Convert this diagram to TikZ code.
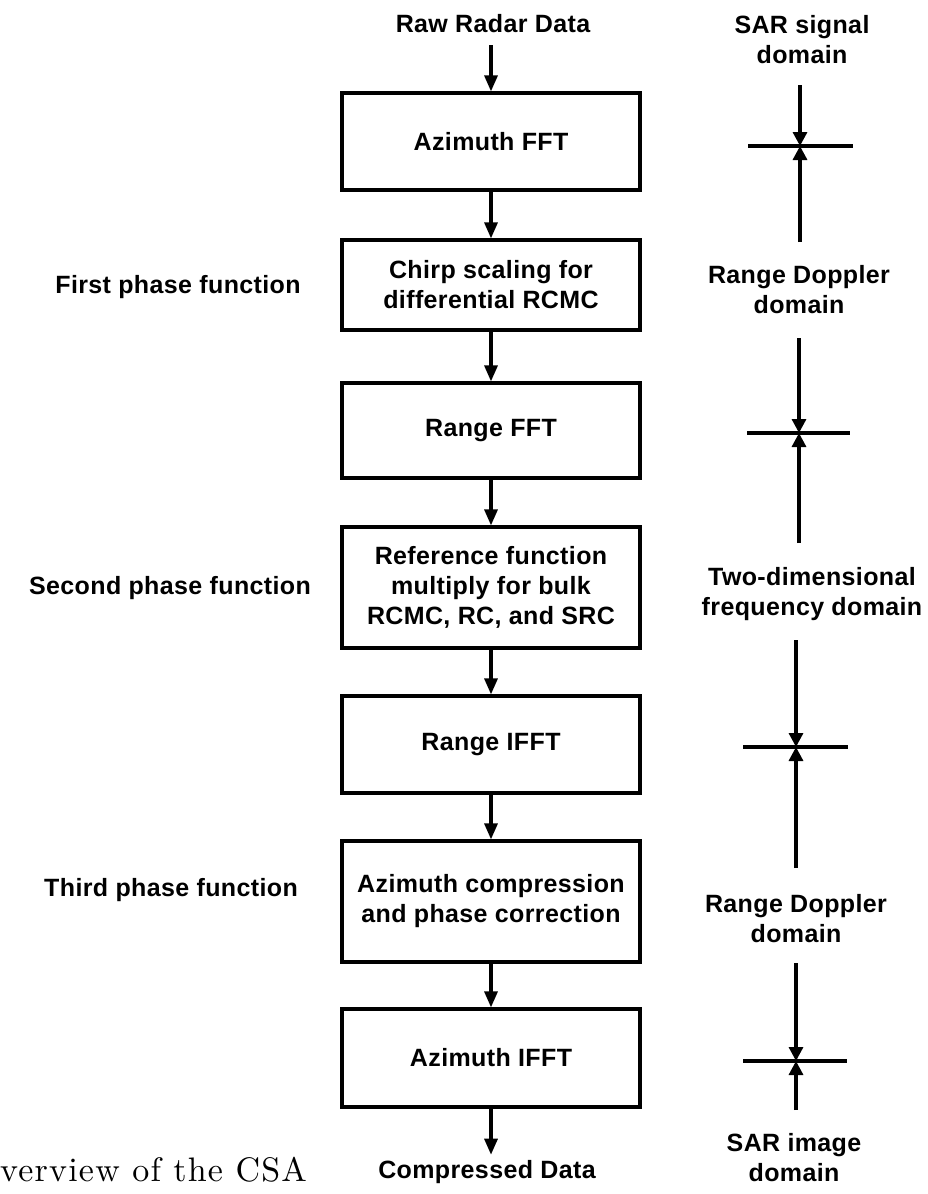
\documentclass[tikz,border=0pt]{standalone}
\usepackage{fontspec}
\newfontfamily\labfont{Liberation Sans}[LetterSpace=1.5]
\newfontfamily\capfont{lmroman10-regular.otf}[LetterSpace=3.5]
\usetikzlibrary{arrows.meta}
\begin{document}
\begin{tikzpicture}[x=1pt,y=-1pt,
  lab/.style={font=\labfont\bfseries\fontsize{25}{30}\selectfont, align=center, inner sep=0pt},
  box/.style={draw, line width=3.2pt, minimum width=298pt, inner sep=0pt, lab},
  arr/.style={line width=3.2pt, -{Triangle[length=16pt,width=13pt]}},
  xline/.style={line width=3.2pt},
  tarr/.style={line width=3.2pt, -{Triangle[length=14pt,width=14pt]}},
]
\useasboundingbox (0,0) rectangle (927,1194);

% main column
\node[lab, anchor=base, inner ysep=13pt] (raw) at (493,32) {Raw Radar Data};
\node[box, minimum height=97pt] (b1) at (491,141.5) {Azimuth FFT};
\node[box, minimum height=90pt] (b2) at (491,285) {Chirp scaling for\\differential RCMC};
\node[box, minimum height=95pt] (b3) at (491,430.5) {Range FFT};
\node[box, minimum height=121pt] (b4) at (491,587.5) {Reference function\\multiply for bulk\\RCMC, RC, and SRC};
\node[box, minimum height=97pt] (b5) at (491,744.5) {Range IFFT};
\node[box, minimum height=121pt] (b6) at (491,901.5) {Azimuth compression\\and phase correction};
\node[box, minimum height=98pt] (b7) at (491,1058) {Azimuth IFFT};
\node[lab, anchor=base, inner ysep=5pt] (comp) at (487,1178) {Compressed Data};

\draw[arr] (raw.south -| b1.north) -- (b1.north);
\draw[arr] (b1) -- (b2);
\draw[arr] (b2) -- (b3);
\draw[arr] (b3) -- (b4);
\draw[arr] (b4) -- (b5);
\draw[arr] (b5) -- (b6);
\draw[arr] (b6) -- (b7);
\draw[arr] (b7.south) -- (b7.south |- comp.north);

% left labels
\node[lab, anchor=base] (p1) at (178,293) {First phase function};
\node[lab, anchor=base] (p2) at (170,594) {Second phase function};
\node[lab, anchor=base] (p3) at (171,896) {Third phase function};

% right labels
\node[lab, anchor=north] (d1) at (802,15) {SAR signal\\domain};
\node[lab, anchor=north] (d2) at (799,265) {Range Doppler\\domain};
\node[lab, anchor=north] (d3) at (812,567) {Two-dimensional\\frequency domain};
\node[lab, anchor=north] (d4) at (796,894) {Range Doppler\\domain};
\node[lab, anchor=north] (d5) at (794,1133) {SAR image\\domain};

% crosses
\coordinate (c1) at (800,146); \coordinate (c1t) at (800,85); \coordinate (c1b) at (800,242);
\coordinate (c1l) at (748,146); \coordinate (c1r) at (853,146);
\coordinate (c2) at (799,433); \coordinate (c2t) at (799,338); \coordinate (c2b) at (799,543);
\coordinate (c2l) at (747,433); \coordinate (c2r) at (850,433);
\coordinate (c3) at (796,747); \coordinate (c3t) at (796,640); \coordinate (c3b) at (796,868);
\coordinate (c3l) at (743,747); \coordinate (c3r) at (848,747);
\coordinate (c4) at (796,1061); \coordinate (c4t) at (796,963); \coordinate (c4b) at (796,1110);
\coordinate (c4l) at (743,1061); \coordinate (c4r) at (847,1061);
\foreach \i in {1,2,3,4}{
  \draw[xline] (c\i l) -- (c\i r);
  \draw[tarr] (c\i t) -- (c\i);
  \draw[tarr] (c\i b) -- (c\i);
}

% caption fragment
\node[anchor=base west, inner sep=0pt, font=\capfont\fontsize{34}{40}\selectfont] (cap) at (0,1181) {verview of the CSA};
\end{tikzpicture}
\end{document}
